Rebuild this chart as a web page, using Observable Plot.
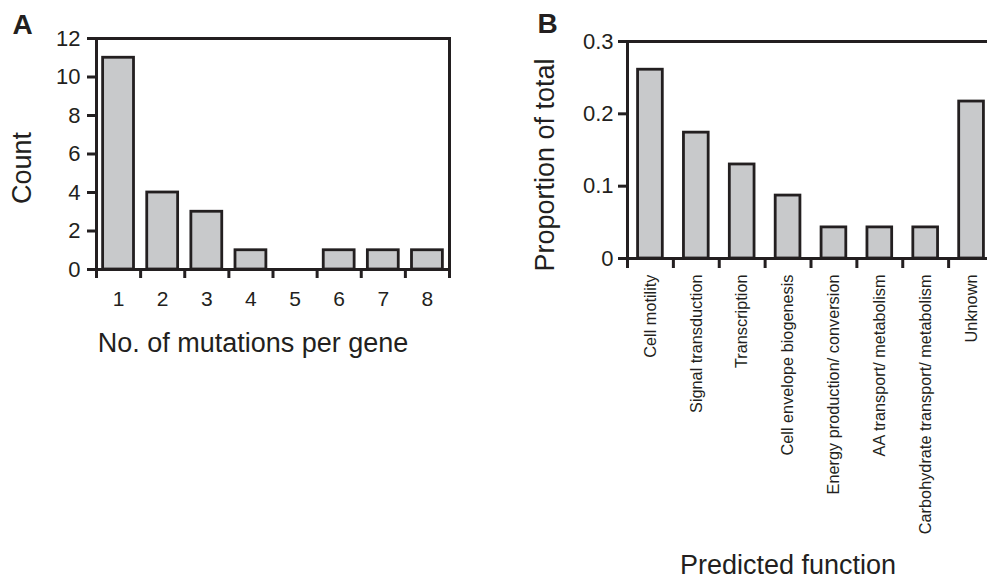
<!DOCTYPE html>
<html>
<head>
<meta charset="utf-8">
<script src="https://cdn.jsdelivr.net/npm/d3@7"></script>
<script src="https://cdn.jsdelivr.net/npm/@observablehq/plot@0.6"></script>
<style>
  html, body { margin: 0; padding: 0; background: #fff; }
  #wrap { position: relative; width: 987px; height: 581px; overflow: hidden; background: #fff; }
  #wrap svg { position: absolute; top: 0; overflow: visible; }
</style>
</head>
<body>
<div id="wrap"></div>
<script>
// Panel A data
const mutationsPerGene = [1, 2, 3, 4, 5, 6, 7, 8];
const geneCounts = [11, 4, 3, 1, 0, 1, 1, 1];
const countTicks = [0, 2, 4, 6, 8, 10, 12];

// Panel B data
const functions = [
  "Cell motility",
  "Signal transduction",
  "Transcription",
  "Cell envelope biogenesis",
  "Energy production/ conversion",
  "AA transport/ metabolism",
  "Carbohydrate transport/ metabolism",
  "Unknown"
];
const proportions = [0.261, 0.174, 0.130, 0.087, 0.043, 0.043, 0.043, 0.217];
const proportionTicks = [0, 0.1, 0.2, 0.3];

const FONT = "'Liberation Sans', Arial, Helvetica, sans-serif";
const INK = "#231f20";
const FILL = "#c8c9cb";
const BW = 0.35; // half bar width in category units

const dataA = mutationsPerGene.map((n, i) => ({n, count: geneCounts[i]}));
const boundsA = d3.range(0.5, mutationsPerGene.length + 1, 1);

const chartA = Plot.plot({
  width: 480, height: 380,
  marginLeft: 96, marginRight: 31, marginTop: 38, marginBottom: 111,
  style: {fontFamily: FONT, color: INK, background: "transparent", overflow: "visible"},
  x: {domain: [0.5, 8.5], axis: null},
  y: {domain: [0, 12], axis: null},
  marks: [
    Plot.rectY(dataA.filter(d => d.count > 0), {
      x1: d => d.n - BW, x2: d => d.n + BW, y1: 0, y2: "count",
      fill: FILL, stroke: INK, strokeWidth: 2.8
    }),
    Plot.frame({stroke: INK, strokeWidth: 3}),
    Plot.axisY({ticks: countTicks, tickSize: 9, tickPadding: 7, fontSize: 22,
      stroke: INK, strokeWidth: 3, label: null, tickFormat: d => String(d)}),
    Plot.axisX({ticks: boundsA, tickSize: 9, stroke: INK, strokeWidth: 3,
      tickFormat: () => "", label: null}),
    Plot.axisX({ticks: mutationsPerGene, tickSize: 0, tickPadding: 22, fontSize: 21,
      label: null, tickFormat: d => String(d)}),
    Plot.text(["Count"], {frameAnchor: "left", text: d => d, rotate: -90,
      textAnchor: "middle", lineAnchor: "middle",
      dx: -74, dy: 14, fontSize: 27, fill: INK}),
    Plot.text(["No. of mutations per gene"], {frameAnchor: "bottom", text: d => d,
      textAnchor: "middle", lineAnchor: "middle",
      dx: -20, dy: 74, fontSize: 27, fill: INK}),
    Plot.text(["A"], {frameAnchor: "top-left", text: d => d, textAnchor: "start",
      lineAnchor: "middle",
      dx: -84, dy: -13, fontSize: 28, fontWeight: "bold", fill: INK})
  ]
});
chartA.style.left = "0px";

const dataB = functions.map((f, i) => ({i: i + 1, f, p: proportions[i]}));
const boundsB = d3.range(0.5, functions.length + 1, 1);

const chartB = Plot.plot({
  width: 484, height: 581,
  marginLeft: 107, marginRight: 10, marginTop: 41, marginBottom: 323,
  style: {fontFamily: FONT, color: INK, background: "transparent", overflow: "visible"},
  x: {domain: [0.5, 8.5], axis: null},
  y: {domain: [0, 0.3], axis: null},
  marks: [
    Plot.rectY(dataB, {
      x1: d => d.i - BW * 0.77, x2: d => d.i + BW * 0.77, y1: 0, y2: "p",
      fill: FILL, stroke: INK, strokeWidth: 2.8
    }),
    Plot.frame({stroke: INK, strokeWidth: 3}),
    Plot.axisY({ticks: proportionTicks, tickSize: 9, tickPadding: 5, fontSize: 22,
      stroke: INK, strokeWidth: 3, label: null, tickFormat: d3.format("~g")}),
    Plot.axisX({ticks: boundsB, tickSize: 10, stroke: INK, strokeWidth: 3,
      tickFormat: () => "", label: null}),
    Plot.text(dataB, {x: "i", frameAnchor: "bottom", text: "f", rotate: -90,
      textAnchor: "end", lineAnchor: "middle", dy: 16, fontSize: 16.3, fill: INK}),
    Plot.text(["Proportion of total"], {frameAnchor: "left", text: d => d, rotate: -90,
      textAnchor: "middle", lineAnchor: "middle",
      dx: -82, dy: 15, fontSize: 27, fill: INK}),
    Plot.text(["Predicted function"], {frameAnchor: "bottom", text: d => d,
      textAnchor: "middle", lineAnchor: "middle",
      dx: -23, dy: 307, fontSize: 27, fill: INK}),
    Plot.text(["B"], {frameAnchor: "top-left", text: d => d, textAnchor: "start",
      lineAnchor: "middle",
      dx: -90, dy: -17, fontSize: 28, fontWeight: "bold", fill: INK})
  ]
});
chartB.style.left = "520px";

document.getElementById("wrap").append(chartA, chartB);
</script>
</body>
</html>
